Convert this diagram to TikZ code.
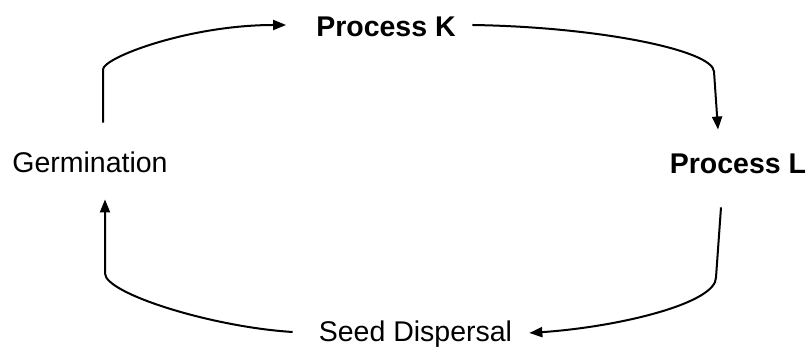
\documentclass[tikz,border=0pt]{standalone}
\usepackage{fontspec}
\setmainfont{Liberation Sans}
\usetikzlibrary{arrows.meta,calc}
\begin{document}
\begin{tikzpicture}[x=1pt,y=1pt,
  lbl/.style={inner sep=0pt,text height=20.5pt,text depth=0pt,font=\fontsize{28.5}{34}\selectfont},
  blbl/.style={lbl,font=\fontsize{28.5}{34}\selectfont\bfseries},
  conn/.style={line width=2pt,line join=round,-{Triangle[length=13pt,width=10pt]}}]
\useasboundingbox (0,0) rectangle (812,347);
\node[lbl]  (G) at (90,185)  {Germination};
\node[blbl] (K) at (386,321) {Process K};
\node[blbl] (L) at (738,184) {Process L};
\node[lbl]  (S) at (415.5,16) {Seed Dispersal};
% Germination -> Process K
\draw[conn] ($(G.north)+(13,29)$) -- ++(0,53)
  .. controls +(0,12) and ($(K.west)+(-127,1)$) .. ($(K.west)+(-30,1)$);
% Process K -> Process L
\draw[conn] ($(K.east)+(16.5,1)$) .. controls +(128,-2) and ($(L.north)+(-25,102)$) .. ($(L.north)+(-24,81)$) -- ($(L.north)+(-20,23)$);
% Process L -> Seed Dispersal
\draw[conn] ($(L.south)+(-17,-34)$) -- ($(L.south)+(-22,-104)$)
  .. controls +(0,-26) and ($(S.east)+(106,4)$) .. ($(S.east)+(17,-2)$);
% Seed Dispersal -> Germination
\draw[conn] ($(S.west)+(-26,-1)$) .. controls +(-81,5) and ($(G.south)+(15,-121)$) .. ($(G.south)+(15,-101)$) -- ($(G.south)+(15,-27)$);
\end{tikzpicture}
\end{document}
